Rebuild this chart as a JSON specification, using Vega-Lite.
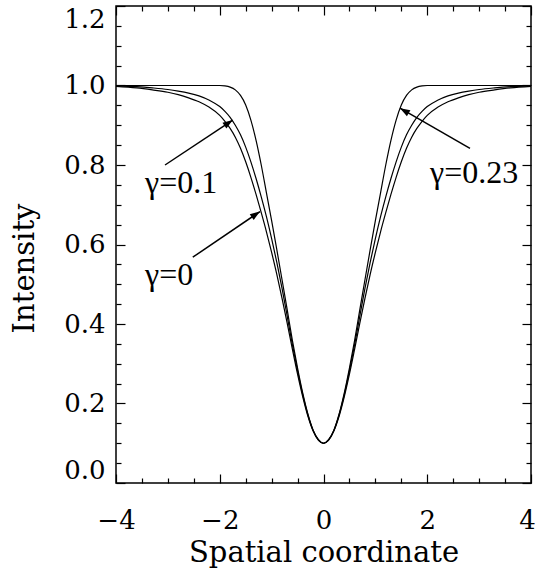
{
  "$schema": "https://vega.github.io/schema/vega-lite/v6.json",
  "width": 415,
  "height": 477,
  "autosize": "none",
  "padding": {"left": 116, "top": 6, "right": 6, "bottom": 88},
  "background": "white",
  "config": {"view": {"stroke": "black", "strokeWidth": 1.5}, "font": "DejaVu Serif"},
  "datasets": {
    "curves": [
      {"curve":"A","x":-4,"I":1.0},{"curve":"A","x":-3.5,"I":1.0},{"curve":"A","x":-3,"I":1.0},{"curve":"A","x":-2.5,"I":1.0},{"curve":"A","x":-2,"I":1.0},{"curve":"A","x":-1.9,"I":0.999},{"curve":"A","x":-1.8,"I":0.996},{"curve":"A","x":-1.7,"I":0.989},{"curve":"A","x":-1.6,"I":0.975},{"curve":"A","x":-1.5,"I":0.951},{"curve":"A","x":-1.4,"I":0.913},{"curve":"A","x":-1.3,"I":0.862},{"curve":"A","x":-1.2,"I":0.8},{"curve":"A","x":-1.1,"I":0.73},{"curve":"A","x":-1.0,"I":0.66},{"curve":"A","x":-0.9,"I":0.587},{"curve":"A","x":-0.8,"I":0.512},{"curve":"A","x":-0.7,"I":0.436},{"curve":"A","x":-0.6,"I":0.359},{"curve":"A","x":-0.5,"I":0.289},{"curve":"A","x":-0.4,"I":0.226},{"curve":"A","x":-0.3,"I":0.173},{"curve":"A","x":-0.2,"I":0.133},{"curve":"A","x":-0.1,"I":0.109},
      {"curve":"A","x":0,"I":0.1},
      {"curve":"A","x":0.1,"I":0.109},{"curve":"A","x":0.2,"I":0.133},{"curve":"A","x":0.3,"I":0.173},{"curve":"A","x":0.4,"I":0.226},{"curve":"A","x":0.5,"I":0.289},{"curve":"A","x":0.6,"I":0.359},{"curve":"A","x":0.7,"I":0.436},{"curve":"A","x":0.8,"I":0.512},{"curve":"A","x":0.9,"I":0.587},{"curve":"A","x":1.0,"I":0.66},{"curve":"A","x":1.1,"I":0.73},{"curve":"A","x":1.2,"I":0.8},{"curve":"A","x":1.3,"I":0.862},{"curve":"A","x":1.4,"I":0.913},{"curve":"A","x":1.5,"I":0.951},{"curve":"A","x":1.6,"I":0.975},{"curve":"A","x":1.7,"I":0.989},{"curve":"A","x":1.8,"I":0.996},{"curve":"A","x":1.9,"I":0.999},{"curve":"A","x":2,"I":1.0},{"curve":"A","x":2.5,"I":1.0},{"curve":"A","x":3,"I":1.0},{"curve":"A","x":3.5,"I":1.0},{"curve":"A","x":4,"I":1.0},

      {"curve":"B","x":-4,"I":0.999},{"curve":"B","x":-3.6,"I":0.997},{"curve":"B","x":-3.3,"I":0.994},{"curve":"B","x":-3.0,"I":0.99},{"curve":"B","x":-2.8,"I":0.986},{"curve":"B","x":-2.6,"I":0.981},{"curve":"B","x":-2.4,"I":0.974},{"curve":"B","x":-2.2,"I":0.963},{"curve":"B","x":-2.0,"I":0.947},{"curve":"B","x":-1.9,"I":0.935},{"curve":"B","x":-1.8,"I":0.92},{"curve":"B","x":-1.7,"I":0.9},{"curve":"B","x":-1.6,"I":0.876},{"curve":"B","x":-1.5,"I":0.845},{"curve":"B","x":-1.4,"I":0.808},{"curve":"B","x":-1.3,"I":0.766},{"curve":"B","x":-1.2,"I":0.72},{"curve":"B","x":-1.1,"I":0.67},{"curve":"B","x":-1.0,"I":0.615},{"curve":"B","x":-0.9,"I":0.555},{"curve":"B","x":-0.8,"I":0.49},{"curve":"B","x":-0.7,"I":0.42},{"curve":"B","x":-0.6,"I":0.348},{"curve":"B","x":-0.5,"I":0.282},{"curve":"B","x":-0.4,"I":0.222},{"curve":"B","x":-0.3,"I":0.171},{"curve":"B","x":-0.2,"I":0.132},{"curve":"B","x":-0.1,"I":0.109},
      {"curve":"B","x":0,"I":0.1},
      {"curve":"B","x":0.1,"I":0.109},{"curve":"B","x":0.2,"I":0.132},{"curve":"B","x":0.3,"I":0.171},{"curve":"B","x":0.4,"I":0.222},{"curve":"B","x":0.5,"I":0.282},{"curve":"B","x":0.6,"I":0.348},{"curve":"B","x":0.7,"I":0.42},{"curve":"B","x":0.8,"I":0.49},{"curve":"B","x":0.9,"I":0.555},{"curve":"B","x":1.0,"I":0.615},{"curve":"B","x":1.1,"I":0.67},{"curve":"B","x":1.2,"I":0.72},{"curve":"B","x":1.3,"I":0.766},{"curve":"B","x":1.4,"I":0.808},{"curve":"B","x":1.5,"I":0.845},{"curve":"B","x":1.6,"I":0.876},{"curve":"B","x":1.7,"I":0.9},{"curve":"B","x":1.8,"I":0.92},{"curve":"B","x":1.9,"I":0.935},{"curve":"B","x":2.0,"I":0.947},{"curve":"B","x":2.2,"I":0.963},{"curve":"B","x":2.4,"I":0.974},{"curve":"B","x":2.6,"I":0.981},{"curve":"B","x":2.8,"I":0.986},{"curve":"B","x":3.0,"I":0.99},{"curve":"B","x":3.3,"I":0.994},{"curve":"B","x":3.6,"I":0.997},{"curve":"B","x":4,"I":0.999},

      {"curve":"C","x":-4,"I":0.998},{"curve":"C","x":-3.6,"I":0.994},{"curve":"C","x":-3.3,"I":0.989},{"curve":"C","x":-3.0,"I":0.983},{"curve":"C","x":-2.8,"I":0.977},{"curve":"C","x":-2.6,"I":0.969},{"curve":"C","x":-2.4,"I":0.959},{"curve":"C","x":-2.2,"I":0.945},{"curve":"C","x":-2.0,"I":0.925},{"curve":"C","x":-1.9,"I":0.91},{"curve":"C","x":-1.8,"I":0.892},{"curve":"C","x":-1.7,"I":0.87},{"curve":"C","x":-1.6,"I":0.842},{"curve":"C","x":-1.5,"I":0.808},{"curve":"C","x":-1.4,"I":0.769},{"curve":"C","x":-1.3,"I":0.726},{"curve":"C","x":-1.2,"I":0.68},{"curve":"C","x":-1.1,"I":0.632},{"curve":"C","x":-1.0,"I":0.58},{"curve":"C","x":-0.9,"I":0.525},{"curve":"C","x":-0.8,"I":0.465},{"curve":"C","x":-0.7,"I":0.402},{"curve":"C","x":-0.6,"I":0.337},{"curve":"C","x":-0.5,"I":0.274},{"curve":"C","x":-0.4,"I":0.217},{"curve":"C","x":-0.3,"I":0.168},{"curve":"C","x":-0.2,"I":0.131},{"curve":"C","x":-0.1,"I":0.108},
      {"curve":"C","x":0,"I":0.1},
      {"curve":"C","x":0.1,"I":0.108},{"curve":"C","x":0.2,"I":0.131},{"curve":"C","x":0.3,"I":0.168},{"curve":"C","x":0.4,"I":0.217},{"curve":"C","x":0.5,"I":0.274},{"curve":"C","x":0.6,"I":0.337},{"curve":"C","x":0.7,"I":0.402},{"curve":"C","x":0.8,"I":0.465},{"curve":"C","x":0.9,"I":0.525},{"curve":"C","x":1.0,"I":0.58},{"curve":"C","x":1.1,"I":0.632},{"curve":"C","x":1.2,"I":0.68},{"curve":"C","x":1.3,"I":0.726},{"curve":"C","x":1.4,"I":0.769},{"curve":"C","x":1.5,"I":0.808},{"curve":"C","x":1.6,"I":0.842},{"curve":"C","x":1.7,"I":0.87},{"curve":"C","x":1.8,"I":0.892},{"curve":"C","x":1.9,"I":0.91},{"curve":"C","x":2.0,"I":0.925},{"curve":"C","x":2.2,"I":0.945},{"curve":"C","x":2.4,"I":0.959},{"curve":"C","x":2.6,"I":0.969},{"curve":"C","x":2.8,"I":0.977},{"curve":"C","x":3.0,"I":0.983},{"curve":"C","x":3.3,"I":0.989},{"curve":"C","x":3.6,"I":0.994},{"curve":"C","x":4,"I":0.998}
    ],
    "labels": [
      {"x": -3.44, "I": 0.73, "text": "γ=0.1"},
      {"x": -3.44, "I": 0.498, "text": "γ=0"},
      {"x": 2.053, "I": 0.755, "text": "γ=0.23"}
    ],
    "arrows": [
      {"name": "g01", "x": -3.055, "I": 0.80, "x2": -1.75, "I2": 0.913},
      {"name": "g0", "x": -2.52, "I": 0.568, "x2": -1.224, "I2": 0.683},
      {"name": "g023", "x": 2.824, "I": 0.842, "x2": 1.475, "I2": 0.943}
    ]
  },
  "layer": [
    {
      "data": {"name": "curves"},
      "mark": {"type": "line", "color": "black", "strokeWidth": 1.2, "interpolate": "monotone"},
      "encoding": {
        "x": {
          "field": "x", "type": "quantitative",
          "scale": {"domain": [-4, 4], "nice": false, "zero": false},
          "axis": {
            "orient": "bottom", "offset": -9, "tickSize": 9, "domain": false,
            "values": [-4, -2, 0, 2, 4], "format": "d",
            "labelFont": "DejaVu Serif", "labelFontSize": 26, "labelColor": "black",
            "labelOffset": {"condition": {"test": "datum.value === 4", "value": -4}, "value": 0},
            "labelPadding": 24, "labelFlush": false, "labelOverlap": false, "labelBound": false,
            "tickColor": "black", "tickWidth": 1.2, "grid": false,
            "title": "Spatial coordinate", "titleFont": "DejaVu Serif", "titleFontSize": 29,
            "titleFontWeight": "normal", "titleColor": "black", "titlePadding": 5
          }
        },
        "y": {
          "field": "I", "type": "quantitative",
          "scale": {"domain": [0, 1.2], "nice": false, "zero": false},
          "axis": {
            "orient": "left", "offset": -9, "tickSize": 9, "domain": false,
            "values": [0, 0.2, 0.4, 0.6, 0.8, 1.0, 1.2], "format": ".1f",
            "labelFont": "DejaVu Serif", "labelFontSize": 26, "labelColor": "black",
            "labelPadding": 11, "labelFlush": true, "labelOverlap": false, "labelBound": false,
            "tickColor": "black", "tickWidth": 1.2, "grid": false,
            "title": "Intensity", "titleFont": "DejaVu Serif", "titleFontSize": 29,
            "titleFontWeight": "normal", "titleColor": "black", "titlePadding": 24, "titleY": 262
          }
        },
        "detail": {"field": "curve", "type": "nominal"}
      }
    },
    {
      "data": {"name": "curves"},
      "mark": {"type": "line", "opacity": 0},
      "encoding": {
        "x": {
          "field": "x", "type": "quantitative",
          "axis": {
            "orient": "bottom", "offset": -5, "tickSize": 5, "domain": false,
            "values": [-3.5, -3, -2.5, -1.5, -1, -0.5, 0.5, 1, 1.5, 2.5, 3, 3.5],
            "labels": false, "title": null, "grid": false, "tickColor": "black", "tickWidth": 1.2
          }
        },
        "y": {
          "field": "I", "type": "quantitative",
          "axis": {
            "orient": "left", "offset": -5, "tickSize": 5, "domain": false,
            "values": [0.05, 0.1, 0.15, 0.25, 0.3, 0.35, 0.45, 0.5, 0.55, 0.65, 0.7, 0.75, 0.85, 0.9, 0.95, 1.05, 1.1, 1.15],
            "labels": false, "title": null, "grid": false, "tickColor": "black", "tickWidth": 1.2
          }
        },
        "detail": {"field": "curve", "type": "nominal"}
      }
    },
    {
      "data": {"name": "curves"},
      "mark": {"type": "line", "opacity": 0},
      "encoding": {
        "x": {
          "field": "x", "type": "quantitative",
          "axis": {
            "orient": "top", "offset": -9, "tickSize": 9, "domain": false,
            "values": [-4, -2, 0, 2, 4],
            "labels": false, "title": null, "grid": false, "tickColor": "black", "tickWidth": 1.2
          }
        },
        "y": {
          "field": "I", "type": "quantitative",
          "axis": {
            "orient": "right", "offset": -9, "tickSize": 9, "domain": false,
            "values": [0, 0.2, 0.4, 0.6, 0.8, 1.0, 1.2],
            "labels": false, "title": null, "grid": false, "tickColor": "black", "tickWidth": 1.2
          }
        },
        "detail": {"field": "curve", "type": "nominal"}
      }
    },
    {
      "data": {"name": "curves"},
      "mark": {"type": "line", "opacity": 0},
      "encoding": {
        "x": {
          "field": "x", "type": "quantitative",
          "axis": {
            "orient": "top", "offset": -5, "tickSize": 5, "domain": false,
            "values": [-3.5, -3, -2.5, -1.5, -1, -0.5, 0.5, 1, 1.5, 2.5, 3, 3.5],
            "labels": false, "title": null, "grid": false, "tickColor": "black", "tickWidth": 1.2
          }
        },
        "y": {
          "field": "I", "type": "quantitative",
          "axis": {
            "orient": "right", "offset": -5, "tickSize": 5, "domain": false,
            "values": [0.05, 0.1, 0.15, 0.25, 0.3, 0.35, 0.45, 0.5, 0.55, 0.65, 0.7, 0.75, 0.85, 0.9, 0.95, 1.05, 1.1, 1.15],
            "labels": false, "title": null, "grid": false, "tickColor": "black", "tickWidth": 1.2
          }
        },
        "detail": {"field": "curve", "type": "nominal"}
      }
    },
    {
      "data": {"name": "arrows"},
      "mark": {"type": "rule", "color": "black", "strokeWidth": 1.5},
      "encoding": {
        "x": {"field": "x", "type": "quantitative", "axis": null},
        "y": {"field": "I", "type": "quantitative", "axis": null},
        "x2": {"field": "x2"},
        "y2": {"field": "I2"}
      }
    },
    {
      "data": {"name": "arrows"},
      "transform": [{"filter": "datum.name !== 'g023'"}],
      "mark": {"type": "point", "shape": "M0,0L-0.35,1L0.35,1Z", "size": 400, "filled": true, "color": "black", "opacity": 1, "angle": 56},
      "encoding": {
        "x": {"field": "x2", "type": "quantitative", "axis": null},
        "y": {"field": "I2", "type": "quantitative", "axis": null}
      }
    },
    {
      "data": {"name": "arrows"},
      "transform": [{"filter": "datum.name === 'g023'"}],
      "mark": {"type": "point", "shape": "M0,0L-0.35,1L0.35,1Z", "size": 400, "filled": true, "color": "black", "opacity": 1, "angle": -60},
      "encoding": {
        "x": {"field": "x2", "type": "quantitative", "axis": null},
        "y": {"field": "I2", "type": "quantitative", "axis": null}
      }
    },
    {
      "data": {"name": "labels"},
      "mark": {"type": "text", "font": "Liberation Serif", "fontSize": 32, "align": "left", "baseline": "alphabetic", "color": "black"},
      "encoding": {
        "x": {"field": "x", "type": "quantitative", "axis": null},
        "y": {"field": "I", "type": "quantitative", "axis": null},
        "text": {"field": "text"}
      }
    }
  ],
  "resolve": {"axis": {"x": "independent", "y": "independent"}}
}
